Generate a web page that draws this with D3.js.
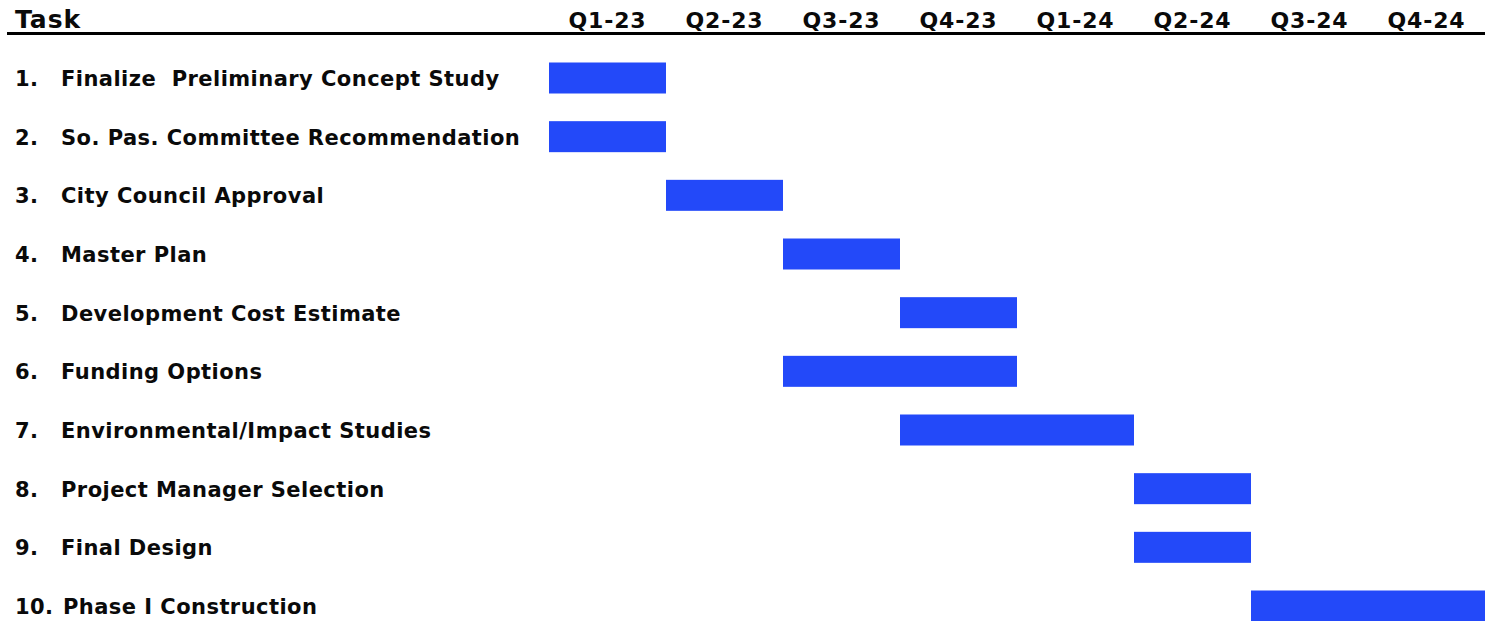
<!DOCTYPE html>
<html>
<head>
<meta charset="utf-8">
<script src="https://cdn.jsdelivr.net/npm/d3@7"></script>
<style>
  body { margin: 0; background: #fff; }
  text { font-family: "DejaVu Sans", Verdana, sans-serif; font-weight: bold; fill: #0a0a0a; }
</style>
</head>
<body>
<script>
// dati
var quarters = ["Q1-23", "Q2-23", "Q3-23", "Q4-23", "Q1-24", "Q2-24", "Q3-24", "Q4-24"];
var taskNums = ["1.", "2.", "3.", "4.", "5.", "6.", "7.", "8.", "9.", "10."];
var taskNames = [
  "Finalize  Preliminary Concept Study",
  "So. Pas. Committee Recommendation",
  "City Council Approval",
  "Master Plan",
  "Development Cost Estimate",
  "Funding Options",
  "Environmental/Impact Studies",
  "Project Manager Selection",
  "Final Design",
  "Phase I Construction"
];
// primo e ultimo trimestre di ogni attività
var startQ = ["Q1-23", "Q1-23", "Q2-23", "Q3-23", "Q4-23", "Q3-23", "Q4-23", "Q2-24", "Q2-24", "Q3-24"];
var endQ   = ["Q1-23", "Q1-23", "Q2-23", "Q3-23", "Q4-23", "Q4-23", "Q1-24", "Q2-24", "Q2-24", "Q4-24"];

var width = 1485, height = 621;
var barH = 31;

var svg = d3.select("body").append("svg")
  .attr("width", width)
  .attr("height", height);

// scale
var x = d3.scaleBand().domain(quarters).range([549, 1485]).padding(0);
var y = d3.scalePoint().domain(taskNums).range([78, 606]);

// intestazione
svg.append("text")
  .attr("x", 15).attr("y", 28)
  .style("font-size", "25px")
  .style("letter-spacing", "1px")
  .text("Task");

svg.selectAll(".qlab")
  .data(quarters)
  .enter().append("text")
  .attr("class", "qlab")
  .attr("x", function (d) { return x(d) + x.bandwidth() / 2; })
  .attr("y", 28)
  .attr("text-anchor", "middle")
  .style("font-size", "22px")
  .style("letter-spacing", "0.8px")
  .text(function (d) { return d; });

svg.append("line")
  .attr("x1", 7).attr("x2", width)
  .attr("y1", 33.5).attr("y2", 33.5)
  .attr("stroke", "#000")
  .attr("stroke-width", 3);

// etichette attività
var rows = taskNums.map(function (n, i) {
  return { num: n, name: taskNames[i], s: startQ[i], e: endQ[i] };
});

svg.selectAll(".num")
  .data(rows)
  .enter().append("text")
  .attr("class", "num")
  .attr("x", 15)
  .attr("y", function (d) { return y(d.num) + 8; })
  .style("font-size", "21px")
  .style("letter-spacing", "0.45px")
  .text(function (d) { return d.num; });

svg.selectAll(".name")
  .data(rows)
  .enter().append("text")
  .attr("class", "name")
  .attr("x", function (d) { return d.num.length > 2 ? 63 : 61; })
  .attr("y", function (d) { return y(d.num) + 8; })
  .attr("xml:space", "preserve")
  .style("font-size", "21px")
  .style("letter-spacing", "0.45px")
  .text(function (d) { return d.name; });

// barre
svg.selectAll(".bar")
  .data(rows)
  .enter().append("rect")
  .attr("class", "bar")
  .attr("x", function (d) { return x(d.s); })
  .attr("width", function (d) { return x(d.e) + x.bandwidth() - x(d.s); })
  .attr("y", function (d) { return y(d.num) - barH / 2; })
  .attr("height", barH)
  .attr("fill", "#2349f9");
</script>
</body>
</html>
